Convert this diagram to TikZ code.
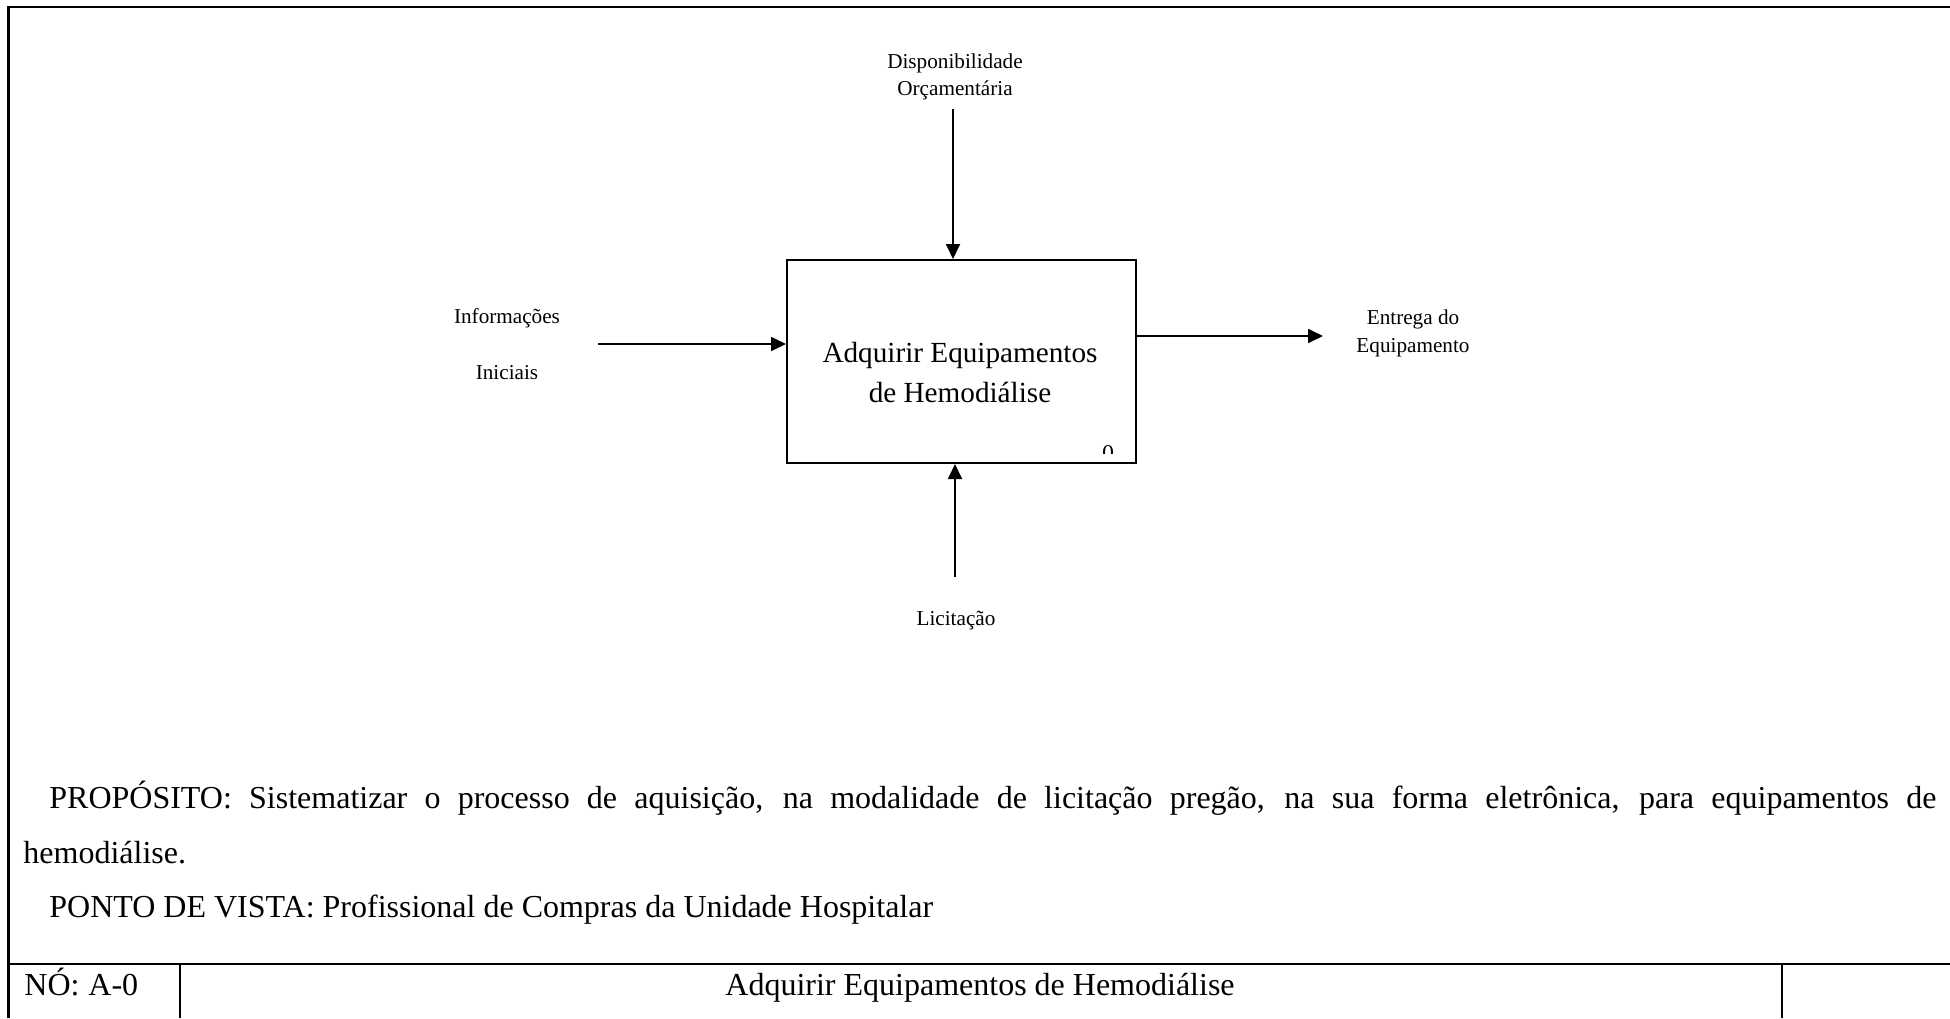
\documentclass[tikz,border=0pt]{standalone}
\usepackage{fontspec}
\setmainfont{Liberation Serif}
\usetikzlibrary{arrows.meta}
\begin{document}
\begin{tikzpicture}[x=0.5pt,y=-0.5pt,
  frameline/.style={line width=1.3pt},
  boxline/.style={line width=1pt},
  flow/.style={line width=0.9pt,-{Triangle[length=7.5pt,width=7pt]}},
  lbl/.style={font=\fontsize{10.6}{13}\selectfont, inner sep=0pt, anchor=base},
  boxtxt/.style={font=\fontsize{14.6}{18}\selectfont, inner sep=0pt, anchor=base},
  foot/.style={font=\fontsize{16}{19}\selectfont, inner sep=0pt, anchor=base west},
]
\useasboundingbox (0,0) rectangle (1950,1018);

% outer sheet frame and title block
\draw[frameline] (1950,7) -- (8.5,7) -- (8.5,1018);
\draw[frameline] (8.5,964) -- (1950,964);
\draw[frameline] (180,964) -- (180,1018);
\draw[frameline] (1782,964) -- (1782,1018);

% activity box
\node[draw, boxline, minimum width=174.5pt, minimum height=101.5pt, inner sep=0pt]
  (proc) at (961.5,361.5) {};
\node[boxtxt] (t1) at (960,362) {Adquirir Equipamentos};
\node[boxtxt] (t2) at (960,402) {de Hemodiálise};
\begin{scope}
  \clip (1095,430) rectangle (1125,453);
  \node[font=\fontsize{12}{14}\selectfont, inner sep=0pt, anchor=base] (num) at (1108,461) {0};
\end{scope}

% control (top)
\node[lbl] (c1) at (955,68) {Disponibilidade};
\node[lbl] (c2) at (955,95) {Orçamentária};
\coordinate (ctop) at (953,109);
\draw[flow] (ctop) -- (ctop |- proc.north);

% input (left)
\node[lbl] (i1) at (507,323) {Informações};
\node[lbl] (i2) at (507,379) {Iniciais};
\coordinate (iend) at (598,344);
\draw[flow] (iend) -- (iend -| proc.west);

% output (right)
\node[lbl] (o1) at (1413,324) {Entrega do};
\node[lbl] (o2) at (1413,352) {Equipamento};
\coordinate (oend) at (1323,336);
\draw[flow] (oend -| proc.east) -- (oend);

% mechanism (bottom)
\node[lbl] (m1) at (956,625) {Licitação};
\coordinate (mend) at (955,577);
\draw[flow] (mend) -- (mend |- proc.south);

% purpose and viewpoint
\node[foot] (p1) at (49,808) {\makebox[943.5pt][s]{PROPÓSITO: Sistematizar o processo de aquisição, na modalidade de licitação pregão, na sua forma eletrônica, para equipamentos de}};
\node[foot] (p2) at (23,863) {hemodiálise.};
\node[foot] (p3) at (49,917) {PONTO DE VISTA: Profissional de Compras da Unidade Hospitalar};

% title block texts
\node[foot] (no) at (24,995) {NÓ:\hspace{0.28em}A-0};
\node[foot, anchor=base] (title) at (980,995) {Adquirir Equipamentos de Hemodiálise};
\end{tikzpicture}
\end{document}
